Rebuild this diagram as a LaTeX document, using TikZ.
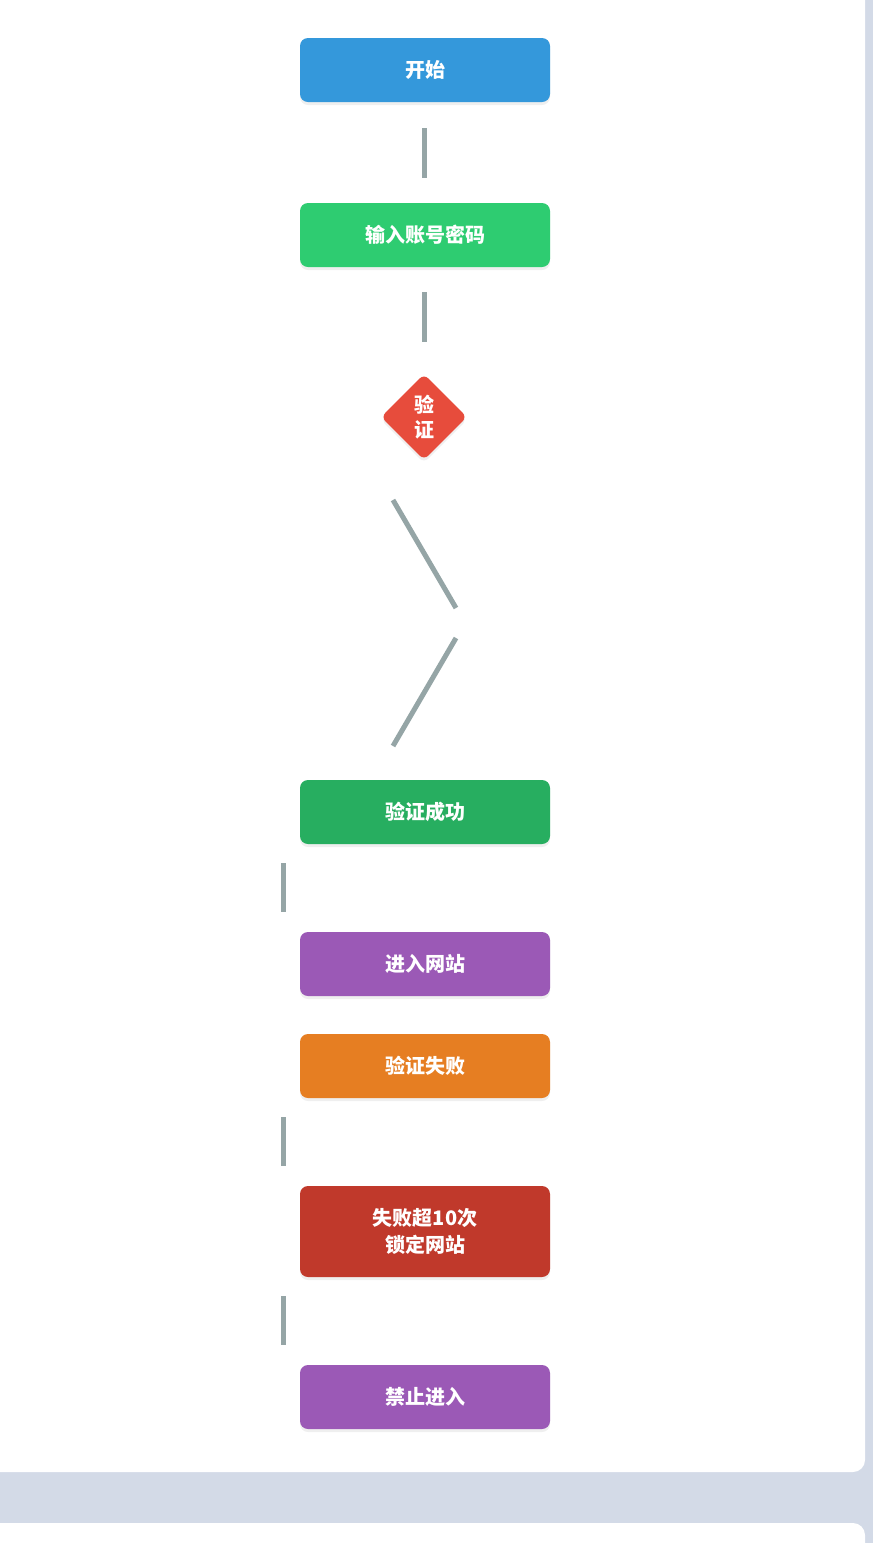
\documentclass[tikz,border=0pt]{standalone}
\usepackage{fontspec}
\newfontfamily\cjk{Noto Sans CJK SC}
\usetikzlibrary{shapes.geometric, shadows}

\definecolor{bggray}{HTML}{D3DAE7}
\definecolor{wiregray}{HTML}{95A5A6}
\definecolor{cblue}{HTML}{3498DB}
\definecolor{cgreen}{HTML}{2ECC71}
\definecolor{cdkgreen}{HTML}{27AE60}
\definecolor{cred}{HTML}{E74C3C}
\definecolor{cdkred}{HTML}{C0392B}
\definecolor{cpurple}{HTML}{9B59B6}
\definecolor{corange}{HTML}{E67E22}

\tikzset{
  stepbox/.style={rectangle, rounded corners=8pt, minimum width=250pt, minimum height=64pt,
    inner sep=0pt, text=white, align=center,
    font=\cjk\bfseries\fontsize{20}{27}\selectfont,
    drop shadow={opacity=0.12, shadow xshift=0pt, shadow yshift=-3pt}},
  checkbox/.style={diamond, aspect=1, rounded corners=6pt, minimum width=86pt, minimum height=86pt,
    inner sep=0pt, text=white, align=center, fill=cred,
    font=\cjk\bfseries\fontsize{20}{27}\selectfont,
    drop shadow={opacity=0.12, shadow xshift=0pt, shadow yshift=-3pt}},
  wire/.style={draw=wiregray, line width=5pt}
}

\begin{document}
\begin{tikzpicture}[x=1pt, y=-1pt]
			% Background and cards
			\useasboundingbox (0,0) rectangle (873,1543);
			\fill[bggray] (0,0) rectangle (873,1543);
			\fill[white, rounded corners=12pt] (-30,-30) rectangle (865,1472);
			\fill[white, rounded corners=12pt] (-30,1523) rectangle (865,1600);

			% Boxes
			\node[stepbox, fill=cblue] (start) at (425, 70) {开始};
			\node[stepbox, fill=cgreen] (input) at (425, 235) {输入账号密码};
			\node[checkbox] (check) at (424, 417) {验\\[-2pt]证};
			\node[stepbox, fill=cdkgreen] (ok) at (425, 812) {验证成功};
			\node[stepbox, fill=cpurple] (enter) at (425, 964) {进入网站};
			\node[stepbox, fill=corange] (fail) at (425, 1066) {验证失败};
			\node[stepbox, fill=cdkred, minimum height=91pt] (lock) at (425, 1231.5) {失败超10次\\锁定网站};
			\node[stepbox, fill=cpurple] (deny) at (425, 1397) {禁止进入};

			% Wire ends
			\coordinate (w1a) at (424, 128);  \coordinate (w1b) at (424, 178);
			\coordinate (w2a) at (424, 292);  \coordinate (w2b) at (424, 342);
			\coordinate (d1a) at (393, 500);  \coordinate (d1b) at (456, 608);
			\coordinate (d2a) at (456, 638);  \coordinate (d2b) at (393, 746);
			\coordinate (w3a) at (283, 863);  \coordinate (w3b) at (283, 912);
			\coordinate (w4a) at (283, 1117); \coordinate (w4b) at (283, 1166);
			\coordinate (w5a) at (283, 1296); \coordinate (w5b) at (283, 1345);

			% Draw the wires
			\draw[wire] (w1a) -- (w1b);
			\draw[wire] (w2a) -- (w2b);
			\draw[wire] (d1a) -- (d1b);
			\draw[wire] (d2a) -- (d2b);
			\draw[wire] (w3a) -- (w3b);
			\draw[wire] (w4a) -- (w4b);
			\draw[wire] (w5a) -- (w5b);

		\end{tikzpicture}
\end{document}
